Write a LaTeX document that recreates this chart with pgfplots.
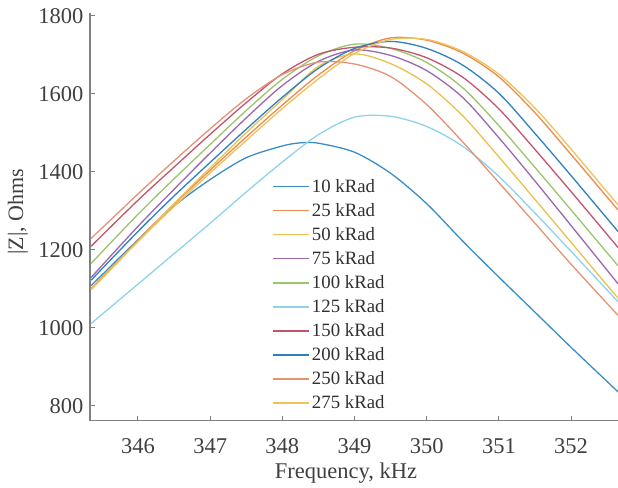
\documentclass[border=0pt]{standalone}
\usepackage{fontspec}
\setmainfont{Liberation Serif}
\usepackage{pgfplots}
\pgfplotsset{compat=1.18}
\definecolor{axgray}{HTML}{808080}
\definecolor{tickgray}{HTML}{404040}
\definecolor{legtext}{HTML}{303030}
\definecolor{cA}{HTML}{3A8DC5}
\definecolor{cB}{HTML}{EE8A4F}
\definecolor{cC}{HTML}{EBC04E}
\definecolor{cD}{HTML}{9C68AE}
\definecolor{cE}{HTML}{9BC46B}
\definecolor{cF}{HTML}{8ED2EE}
\definecolor{cG}{HTML}{C4546E}
\definecolor{cH}{HTML}{2F80BF}
\definecolor{cI}{HTML}{E39474}
\definecolor{cJ}{HTML}{EDC35A}
\pgfplotsset{legimg/.style={legend image code/.code={\draw[#1, line width=1.6pt] (0pt,0pt) -- (36pt,0pt);}}}
\begin{document}
\begin{tikzpicture}
\begin{axis}[
  width=528pt, height=407.4pt, scale only axis,
  xmin=345.335, xmax=352.65, ymin=762, ymax=1806,
  axis x line*=bottom, axis y line*=left,
  axis line style={-, draw=axgray, line width=1.5pt},
  xtick={346,347,348,349,350,351,352},
  ytick={800,1000,1200,1400,1600,1800},
  tick align=inside,
  major tick length=5pt,
  tick style={draw=axgray, line width=1pt},
  /pgf/number format/assume math mode=true,
  /pgf/number format/1000 sep={},
  ticklabel style={font=\fontsize{22.5}{27}\selectfont, text=tickgray},
  xticklabel style={yshift=-14pt},
  yticklabel style={xshift=-3pt},
  xlabel={Frequency, kHz},
  ylabel={|Z|, Ohms},
  every axis x label/.style={at={(rel axis cs:0.485,0)}, anchor=north, inner sep=0pt,
    yshift=-42.3pt, font=\fontsize{22.5}{27}\selectfont, text=tickgray},
  every axis y label/.style={at={(rel axis cs:-0.1174,0.513)}, anchor=south, rotate=90,
    inner sep=0pt, font=\fontsize{22}{26}\selectfont, text=tickgray},
  legend style={draw=none, fill=none, at={(rel axis cs:0.345,0.598)}, anchor=north west,
    font=\fontsize{18.8}{20}\selectfont, text=legtext, row sep=5.5pt, inner sep=0pt,
    nodes={inner sep=2pt}},
  legend cell align=left,
  legimg,
  every axis plot/.append style={smooth, line width=1.3pt, no markers},
]
\coordinate (o) at (rel axis cs:0,0);
\addplot[color=cA] coordinates {(345.35,1108)(346,1226)(346.5,1312)(347,1380)(347.5,1436)(348,1466)(348.25,1474)(348.5,1473)(349,1450)(349.5,1396)(350,1318)(350.5,1222)(351,1130)(351.5,1040)(352,950)(352.65,836)};
\addlegendentry{10 kRad}
\addplot[color=cB] coordinates {(345.35,1100)(346,1225)(346.5,1317)(347,1404)(347.5,1489)(348,1571)(348.5,1648)(349,1710)(349.5,1743)(350,1737)(350.5,1704)(351,1643)(351.5,1551)(352,1444)(352.65,1302)};
\addlegendentry{25 kRad}
\addplot[color=cC] coordinates {(345.35,1098)(346,1222)(346.5,1318)(347,1410)(347.5,1500)(348,1585)(348.5,1670)(349,1702)(349.5,1677)(350,1625)(350.5,1543)(351,1438)(351.5,1329)(352,1219)(352.65,1076)};
\addlegendentry{50 kRad}
\addplot[color=cD] coordinates {(345.35,1129)(346,1260)(346.5,1355)(347,1448)(347.5,1538)(348,1621)(348.5,1683)(349,1712)(349.5,1698)(350,1659)(350.5,1590)(351,1487)(351.5,1376)(352,1262)(352.65,1113)};
\addlegendentry{75 kRad}
\addplot[color=cE] coordinates {(345.35,1165)(346,1291)(346.5,1382)(347,1470)(347.5,1557)(348,1637)(348.5,1697)(349,1727)(349.5,1716)(350,1680)(350.5,1615)(351,1518)(351.5,1411)(352,1302)(352.65,1159)};
\addlegendentry{100 kRad}
\addplot[color=cF] coordinates {(345.35,1011)(346,1112)(346.5,1190)(347,1268)(347.5,1348)(348,1425)(348.5,1495)(349,1540)(349.5,1542)(350,1516)(350.5,1465)(351,1388)(351.5,1294)(352,1196)(352.65,1067)};
\addlegendentry{125 kRad}
\addplot[color=cG] coordinates {(345.35,1209)(346,1327)(346.5,1412)(347,1496)(347.5,1577)(348,1651)(348.5,1701)(349,1719)(349.5,1717)(350,1692)(350.5,1642)(351,1561)(351.5,1457)(352,1349)(352.65,1206)};
\addlegendentry{150 kRad}
\addplot[color=cH] coordinates {(345.35,1122)(346,1247)(346.5,1338)(347,1424)(347.5,1509)(348,1591)(348.5,1665)(349,1716)(349.5,1734)(350,1716)(350.5,1673)(351,1601)(351.5,1498)(352,1390)(352.65,1247)};
\addlegendentry{200 kRad}
\addplot[color=cI] coordinates {(345.35,1229)(346,1343)(346.5,1428)(347,1510)(347.5,1587)(348,1649)(348.5,1681)(349,1676)(349.5,1644)(350,1572)(350.5,1476)(351,1372)(351.5,1268)(352,1163)(352.65,1032)};
\addlegendentry{250 kRad}
\addplot[color=cJ] coordinates {(345.35,1098)(346,1221)(346.5,1311)(347,1397)(347.5,1480)(348,1562)(348.5,1638)(349,1703)(349.5,1739)(350,1739)(350.5,1708)(351,1650)(351.5,1563)(352,1458)(352.65,1315)};
\addlegendentry{275 kRad}
\end{axis}
\pgfresetboundingbox
\path[use as bounding box] (o) ++(-90pt,-66.3pt) rectangle ++(618pt,487pt);
\end{tikzpicture}
\end{document}
